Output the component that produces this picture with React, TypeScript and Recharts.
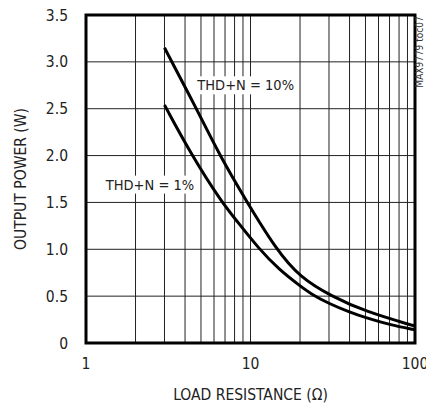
import {
  CartesianGrid,
  Line,
  LineChart,
  ReferenceArea,
  ReferenceDot,
  XAxis,
  YAxis,
} from 'recharts'

// THD+N = 10% curve
const loadR10 = [3, 4.7, 6.5, 9.4, 14.3, 20, 31, 50, 100]
const power10 = [3.15, 2.5, 2.0, 1.52, 1.0, 0.7, 0.5, 0.335, 0.18]

// THD+N = 1% curve
const loadR1 = [3, 4.4, 6.7, 8.2, 11.3, 15, 20, 23.5, 30, 40, 50, 70, 100]
const power1 = [2.54, 2.0, 1.5, 1.31, 1.0, 0.78, 0.61, 0.52, 0.42, 0.33, 0.27, 0.195, 0.14]

const xTicks = [1, 2, 3, 4, 5, 6, 7, 8, 9, 10, 20, 30, 40, 50, 60, 70, 80, 90, 100]
const xLabels = [1, 10, 100]
const yTicks = [0, 0.5, 1, 1.5, 2, 2.5, 3, 3.5]

const FONT = '"Liberation Sans Narrow", "DejaVu Sans Condensed", "Arial Narrow", sans-serif'

const series10 = loadR10.map((r, i) => ({ r, p: power10[i] }))
const series1 = loadR1.map((r, i) => ({ r, p: power1[i] }))

function boxedLabel(text: string, w: number) {
  return function BoxedLabel(props: any) {
    const { viewBox } = props
    const cx = viewBox.x + (viewBox.width || 0) / 2
    const cy = viewBox.y + (viewBox.height || 0) / 2
    return (
      <g>
        <rect x={cx - w / 2} y={cy - 9} width={w} height={18} fill="#fff" />
        <text
          x={cx}
          y={cy}
          textAnchor="middle"
          dominantBaseline="central"
          fontFamily={FONT}
          fontSize={14.5}
          fill="#222"
        >
          {text}
        </text>
      </g>
    )
  }
}

export default function App() {
  return (
    <div style={{ position: 'absolute', left: 0, top: 0, width: 426, height: 404, background: '#fff' }}>
      <LineChart width={426} height={404} margin={{ top: 15, right: 11, left: 0, bottom: 4 }}>
        <CartesianGrid stroke="#222" strokeWidth={1} />
        <XAxis
          type="number"
          dataKey="r"
          scale="log"
          domain={[1, 100]}
          ticks={xTicks}
          allowDataOverflow
          interval={0}
          height={57}
          axisLine={false}
          tickLine={false}
          tickMargin={9}
          tick={{ fontFamily: FONT, fontSize: 15.5, fill: '#222' }}
          tickFormatter={(v: number) => (xLabels.includes(v) ? String(v) : '')}
          label={{
            value: 'LOAD RESISTANCE (Ω)',
            position: 'insideBottom',
            offset: 0,
            style: { fontFamily: FONT, fontSize: 15.5, fill: '#222' },
          }}
        />
        <YAxis
          type="number"
          domain={[0, 3.5]}
          ticks={yTicks}
          width={86}
          axisLine={false}
          tickLine={false}
          tickMargin={12}
          tick={{ fontFamily: FONT, fontSize: 15.5, fill: '#222' }}
          tickFormatter={(v: number) => (v === 0 ? '0' : v.toFixed(1))}
          label={{
            value: 'OUTPUT POWER (W)',
            angle: -90,
            position: 'insideLeft',
            offset: 20,
            style: { fontFamily: FONT, fontSize: 15.5, fill: '#222', textAnchor: 'middle' },
          }}
        />
        <ReferenceArea
          x1={1}
          x2={100}
          y1={0}
          y2={3.5}
          fill="none"
          stroke="#000"
          strokeWidth={3}
          ifOverflow="visible"
        />
        <Line
          data={series10}
          dataKey="p"
          type="basis"
          stroke="#000"
          strokeWidth={3}
          dot={false}
          isAnimationActive={false}
        />
        <Line
          data={series1}
          dataKey="p"
          type="basis"
          stroke="#000"
          strokeWidth={3}
          dot={false}
          isAnimationActive={false}
        />
        <ReferenceDot x={9.35} y={2.75} r={0} label={boxedLabel('THD+N = 10%', 96)} />
        <ReferenceDot x={2.45} y={1.69} r={0} label={boxedLabel('THD+N = 1%', 86)} />
      </LineChart>
      <div style={{ position: 'absolute', left: 420, top: 52, width: 0, height: 0 }}>
        <span
          style={{
            position: 'absolute',
            left: 0,
            top: 0,
            transform: 'translate(-50%, -50%) rotate(-90deg)',
            whiteSpace: 'nowrap',
            fontFamily: FONT,
            fontSize: 10,
            lineHeight: '10px',
            color: '#333',
          }}
        >
          MAX9779 toc07
        </span>
      </div>
    </div>
  )
}
